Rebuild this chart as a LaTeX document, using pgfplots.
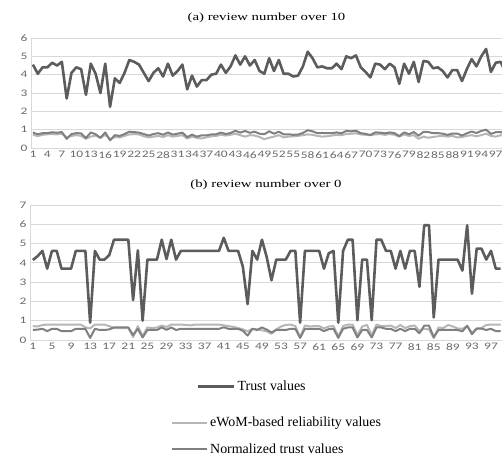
\documentclass[border=0pt]{standalone}
\usepackage{pgfplots}
\pgfplotsset{compat=1.18}
\usepackage{pgfplotstable}
\usepackage{fontspec}
\setmainfont{Liberation Serif}
\newfontfamily\tickfont{Carlito}

\definecolor{trustc}{RGB}{92,92,92}
\definecolor{normc}{RGB}{128,128,128}
\definecolor{ewomc}{RGB}{182,182,182}
\definecolor{gridc}{RGB}{217,217,217}
\definecolor{tickc}{RGB}{105,105,105}
% the original figure is stretched sideways, text included
\newcommand{\sx}[1]{\scalebox{1.35}[1]{#1}}

% (a) review number over 10
\pgfplotstableread{
trust ewom norm
4.55 0.72 0.84
4.05 0.65 0.75
4.40 0.72 0.81
4.40 0.75 0.81
4.65 0.76 0.86
4.50 0.74 0.83
4.70 0.78 0.87
2.70 0.58 0.50
4.10 0.66 0.76
4.40 0.70 0.81
4.30 0.66 0.80
2.90 0.50 0.54
4.60 0.62 0.85
4.05 0.68 0.75
3.00 0.55 0.56
4.60 0.72 0.85
2.25 0.48 0.42
3.80 0.60 0.70
3.55 0.58 0.66
4.10 0.66 0.76
4.80 0.74 0.89
4.70 0.76 0.87
4.55 0.74 0.84
4.10 0.64 0.76
3.65 0.58 0.68
4.10 0.62 0.76
4.35 0.66 0.81
3.90 0.60 0.72
4.60 0.70 0.85
3.95 0.62 0.73
4.20 0.66 0.78
4.55 0.70 0.84
3.20 0.52 0.59
3.95 0.62 0.73
3.35 0.55 0.62
3.70 0.52 0.69
3.70 0.58 0.69
4.00 0.64 0.74
4.05 0.66 0.75
4.55 0.72 0.84
4.10 0.68 0.76
4.45 0.72 0.82
5.05 0.78 0.94
4.55 0.70 0.84
5.00 0.62 0.93
4.50 0.70 0.83
4.80 0.68 0.89
4.20 0.60 0.78
4.05 0.48 0.75
4.90 0.56 0.91
4.20 0.62 0.78
4.80 0.70 0.89
4.05 0.58 0.75
4.05 0.62 0.75
3.90 0.64 0.72
3.95 0.66 0.73
4.45 0.70 0.82
5.25 0.74 0.97
4.90 0.72 0.91
4.40 0.66 0.81
4.45 0.62 0.82
4.35 0.64 0.81
4.35 0.68 0.81
4.60 0.72 0.85
4.30 0.70 0.80
5.00 0.76 0.93
4.90 0.78 0.91
5.05 0.80 0.94
4.40 0.74 0.81
4.15 0.72 0.77
3.85 0.70 0.71
4.60 0.74 0.85
4.55 0.76 0.84
4.30 0.72 0.80
4.60 0.76 0.85
4.40 0.72 0.81
3.50 0.62 0.65
4.60 0.74 0.85
4.05 0.66 0.75
4.70 0.70 0.87
3.60 0.50 0.67
4.75 0.62 0.88
4.70 0.56 0.87
4.35 0.60 0.81
4.40 0.64 0.81
4.20 0.66 0.78
3.85 0.62 0.71
4.25 0.66 0.79
4.25 0.58 0.79
3.65 0.60 0.68
4.30 0.66 0.80
4.85 0.70 0.90
4.45 0.64 0.82
5.00 0.70 0.93
5.40 0.78 1.00
4.15 0.66 0.77
4.65 0.62 0.86
4.70 0.70 0.87
4.15 0.64 0.77
}\toptab

% (b) review number over 0
\pgfplotstableread{
trust ewom norm
4.15 0.72 0.52
4.35 0.70 0.54
4.62 0.78 0.58
3.70 0.80 0.46
4.62 0.80 0.58
4.62 0.80 0.58
3.70 0.80 0.46
3.70 0.80 0.46
3.70 0.80 0.46
4.62 0.80 0.58
4.62 0.80 0.58
4.62 0.66 0.58
0.90 0.60 0.11
4.62 0.80 0.58
4.17 0.80 0.52
4.17 0.80 0.52
4.40 0.72 0.55
5.20 0.62 0.65
5.20 0.62 0.65
5.20 0.62 0.65
5.20 0.62 0.65
2.07 0.15 0.26
4.65 0.72 0.58
1.00 0.20 0.13
4.17 0.65 0.52
4.17 0.62 0.52
4.17 0.65 0.52
5.20 0.75 0.65
4.20 0.68 0.53
5.20 0.80 0.65
4.17 0.80 0.52
4.62 0.80 0.58
4.62 0.78 0.58
4.62 0.76 0.58
4.62 0.80 0.58
4.62 0.80 0.58
4.62 0.80 0.58
4.62 0.80 0.58
4.62 0.80 0.58
4.62 0.80 0.58
5.30 0.76 0.66
4.62 0.72 0.58
4.62 0.68 0.58
4.62 0.62 0.58
3.80 0.55 0.48
1.86 0.45 0.23
4.62 0.58 0.58
4.17 0.55 0.52
5.20 0.50 0.65
4.30 0.45 0.54
3.10 0.32 0.39
4.17 0.55 0.52
4.17 0.70 0.52
4.17 0.78 0.52
4.62 0.80 0.58
4.62 0.72 0.58
0.90 0.15 0.11
4.62 0.75 0.58
4.62 0.70 0.58
4.62 0.72 0.58
4.62 0.72 0.58
3.70 0.60 0.46
4.50 0.70 0.56
4.62 0.72 0.58
0.90 0.20 0.11
4.62 0.72 0.58
5.20 0.80 0.65
5.20 0.80 0.65
1.03 0.25 0.13
4.17 0.70 0.52
4.17 0.78 0.52
1.03 0.25 0.13
5.20 0.80 0.65
5.20 0.72 0.65
4.62 0.72 0.58
4.62 0.75 0.58
3.70 0.62 0.46
4.62 0.78 0.58
3.70 0.62 0.46
4.62 0.72 0.58
4.62 0.75 0.58
2.76 0.48 0.35
5.95 0.58 0.74
5.95 0.55 0.74
1.17 0.10 0.15
4.17 0.65 0.52
4.17 0.62 0.52
4.17 0.78 0.52
4.17 0.70 0.52
4.17 0.60 0.52
3.60 0.58 0.45
5.95 0.72 0.74
2.40 0.38 0.30
4.74 0.60 0.59
4.74 0.62 0.59
4.17 0.78 0.52
4.62 0.80 0.58
3.70 0.80 0.46
3.70 0.80 0.46
}\bottab

\pgfplotsset{
  panel/.style={
    scale only axis,
    axis lines=left,
    axis line style={-, draw=gridc, line width=1bp},
    ymajorgrids,
    grid style={gridc, line width=1bp},
    major tick length=0pt,
    tick style={draw=none},
    ticklabel style={text=tickc},
    yticklabel={\sx{\tickfont\fontsize{10}{10}\selectfont\pgfmathprintnumber[assume math mode=true]{\tick}}},
    xticklabel={\sx{\tickfont\fontsize{10}{10}\selectfont\pgfmathprintnumber[assume math mode=true]{\tick}}},
    title style={font=\fontsize{11}{13}\selectfont, yshift=6bp},
    every axis plot/.append style={no marks, line join=round},
  },
  trustline/.style={trustc, line width=2.6bp},
  ewomline/.style={ewomc, line width=2bp},
  normline/.style={normc, line width=2bp},
}

\begin{document}
\begin{tikzpicture}
\useasboundingbox (0bp,0bp) rectangle (502bp,-462bp);

\begin{axis}[panel,
  at={(31bp,-148bp)}, anchor=south west,
  width=471bp, height=110bp,
  xmin=0.6, xmax=98.3, ymin=0, ymax=6,
  xtick={1,4,...,97}, ytick={0,1,...,6},
  title={\sx{(a) review number over 10}},
]
\addplot[ewomline] table[x expr=\coordindex+1, y=ewom] {\toptab};
\addplot[normline] table[x expr=\coordindex+1, y=norm] {\toptab};
\addplot[trustline] table[x expr=\coordindex+1, y=trust] {\toptab};
\end{axis}

\begin{axis}[panel,
  at={(30bp,-340bp)}, anchor=south west,
  width=472bp, height=135bp,
  xmin=0.4, xmax=99.3, ymin=0, ymax=7,
  xtick={1,5,...,97}, ytick={0,1,...,7},
  title={\sx{(b) review number over 0}},
]
\addplot[ewomline] table[x expr=\coordindex+1, y=ewom] {\bottab};
\addplot[normline] table[x expr=\coordindex+1, y=norm] {\bottab};
\addplot[trustline] table[x expr=\coordindex+1, y=trust] {\bottab};
\end{axis}

% legend, first row sits further right than the other two
\begin{axis}[hide axis, scale only axis, width=1bp, height=1bp,
  at={(196bp,-379bp)}, anchor=north west,
  xmin=0, xmax=1, ymin=0, ymax=1,
  legend style={at={(0,1)}, anchor=north west, draw=none, fill=none,
    inner sep=0pt, font=\fontsize{14}{16}\selectfont},
  legend cell align=left,
  legend image code/.code={\draw[#1] (0bp,0bp) -- (36bp,0bp);},
]
\addlegendimage{trustc, line width=3.4bp}
\addlegendentry{Trust values}
\end{axis}

\begin{axis}[hide axis, scale only axis, width=1bp, height=1bp,
  at={(171bp,-415bp)}, anchor=north west,
  xmin=0, xmax=1, ymin=0, ymax=1,
  legend style={at={(0,1)}, anchor=north west, draw=none, fill=none,
    inner sep=0pt, row sep=11bp, font=\fontsize{14}{16}\selectfont},
  legend cell align=left,
  legend image code/.code={\draw[#1] (0bp,0bp) -- (35bp,0bp);},
]
\addlegendimage{ewomline}
\addlegendentry{eWoM-based reliability values}
\addlegendimage{normline}
\addlegendentry{Normalized trust values}
\end{axis}
\end{tikzpicture}
\end{document}
